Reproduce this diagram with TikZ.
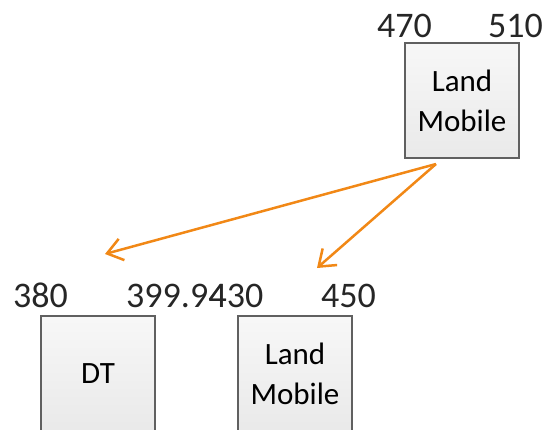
\documentclass[tikz,border=0pt]{standalone}
\usepackage{fontspec}
\setmainfont{Carlito}
\usepackage{tikz}
\usetikzlibrary{arrows.meta}
\definecolor{arrorange}{RGB}{241,136,22}
\definecolor{boxline}{RGB}{96,96,96}
\tikzset{
  bandbox/.style={draw=boxline,line width=1.6pt,top color=gray!6,bottom color=gray!17,
    minimum width=114pt,minimum height=115pt,inner sep=0pt,align=center,
    font=\fontsize{31}{40}\selectfont},
  freqlbl/.style={anchor=base west,inner sep=0pt,font=\fontsize{36}{40}\selectfont,text=black!85},
  alloc/.style={draw=arrorange,line width=2.5pt,-{Straight Barb[length=15pt,width=22pt]}}
}
\begin{document}
\begin{tikzpicture}[x=1pt,y=1pt,yscale=-1,xscale=1]
%set diagram size to 545 x 429
\useasboundingbox (0,0) rectangle (545,429);
\clip (0,0) rectangle (545,429);

%Shape: Box [id:top]
\node[bandbox] (lmtop) at (462,100.5) {Land\\Mobile};
\node[freqlbl] (f470) at (377,37) {470};
\node[freqlbl] (f510) at (488,37) {510};

%Shape: Box [id:dt]
\node[bandbox] (dt) at (98,373.5) {DT};
\node[freqlbl] (f380) at (13,307) {380};
\node[freqlbl] (f39994) at (126,307) {399.94};

%Shape: Box [id:bottom]
\node[bandbox] (lmbot) at (295,373.5) {Land\\Mobile};
\node[freqlbl] (f430) at ([xshift=-18.25pt]f39994.base east) {430};
\node[freqlbl] (f450) at (321,307) {450};

%Arrows
\coordinate (src) at (436,164);
\coordinate (tipdt) at (105,254);
\coordinate (tiplm) at (317,268);
\draw[alloc] (src) -- (tipdt);
\draw[alloc] (src) -- (tiplm);

\end{tikzpicture}
\end{document}
